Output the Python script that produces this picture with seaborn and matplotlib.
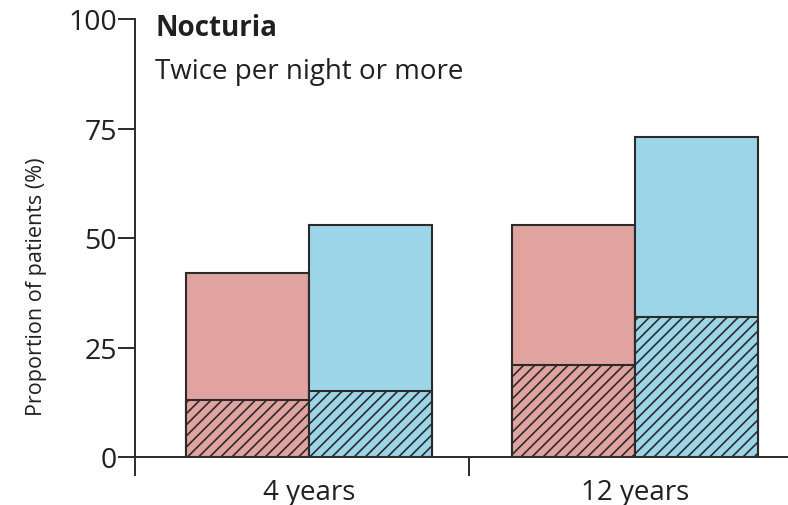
import numpy as np
import pandas as pd
import matplotlib
matplotlib.use("Agg")
import matplotlib.pyplot as plt
import seaborn as sns

# Nocturia, twice per night or more: proportion of patients per follow-up
periods = ["4 years", "12 years"]
groups = ["Group A", "Group B"]
total_pct = {"Group A": [42, 53], "Group B": [53, 73]}
hatched_pct = {"Group A": [13, 21], "Group B": [15, 32]}
y_ticks = [0, 25, 50, 75, 100]

rows = []
for g in groups:
    for i, p in enumerate(periods):
        rows.append({"period": p, "group": g,
                     "total": total_pct[g][i], "hatched": hatched_pct[g][i]})
df = pd.DataFrame(rows)

sns.set_theme(style="ticks")
plt.rcParams["font.family"] = ["Open Sans", "DejaVu Sans"]
plt.rcParams["hatch.linewidth"] = 1.2

palette = {"Group A": "#e0a3a0", "Group B": "#9dd5e8"}
edge = "#2b2b2b"
text_col = "#231f20"

fig = plt.figure(figsize=(7.88, 5.06), dpi=100)
ax = fig.add_axes([135 / 788, 1 - 458 / 506, 1 - 135 / 788, 438 / 506])

sns.barplot(data=df, x="period", y="total", hue="group", order=periods,
            hue_order=groups, palette=palette, width=0.755, gap=0,
            edgecolor=edge, linewidth=1.5, saturation=1, legend=False, ax=ax)
sns.barplot(data=df, x="period", y="hatched", hue="group", order=periods,
            hue_order=groups, palette=palette, width=0.755, gap=0,
            edgecolor=edge, linewidth=1.5, saturation=1, legend=False,
            hatch="///", ax=ax)

ax.set_xlim(-0.534, 1.47)
ax.set_ylim(0, 100)
ax.set_yticks(y_ticks)
ax.set_yticklabels([str(v) for v in y_ticks], fontsize=20.5, color=text_col)

# category labels at bar centres, tick marks at the group boundaries
ax.set_xticks([0, 1])
ax.set_xticklabels(periods, fontsize=20, color=text_col)
ax.tick_params(axis="x", which="major", length=0, pad=15)
ax.set_xticks([-0.534, 0.49], minor=True)
ax.tick_params(axis="x", which="minor", length=14, width=1.4, color=edge)
ax.tick_params(axis="y", length=12, width=1.4, color=edge, pad=1)

ax.set_xlabel("")
ax.set_ylabel("Proportion of patients (%)", fontsize=15.5, color=text_col)
ax.yaxis.set_label_coords(-0.134, 0.39)

sns.despine(ax=ax, top=True, right=True)
for side in ("left", "bottom"):
    ax.spines[side].set_color(edge)
    ax.spines[side].set_linewidth(1.4)

fig.text(155 / 788, 1 - 29 / 506, "Nocturia", fontsize=20, fontweight="bold",
         color=text_col, va="center", ha="left")
fig.text(155 / 788, 1 - 72 / 506, "Twice per night or more", fontsize=20,
         color=text_col, va="center", ha="left")

fig.savefig("out.png", dpi=100)
